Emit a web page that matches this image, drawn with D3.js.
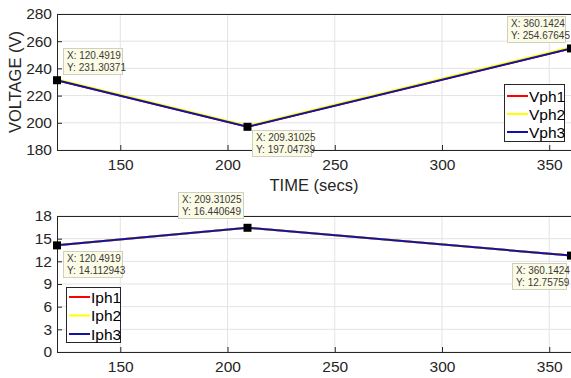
<!DOCTYPE html>
<html><head><meta charset="utf-8">
<script src="https://cdn.jsdelivr.net/npm/d3@7"></script>
<style>
body{margin:0;background:#fff;}
svg{display:block;font-family:"Liberation Sans",Arial,sans-serif;}
</style></head><body>
<svg id="c" width="571" height="378"></svg>
<script>
const timeSecs = [120.4919, 209.31025, 360.1424];
const vph1 = [231.30371, 197.04739, 254.67645];
const vph2 = [232.1, 197.8, 255.5];
const vph3 = [231.30371, 197.04739, 254.67645];
const iph1 = [14.112943, 16.440649, 12.75759];
const iph2 = [14.112943, 16.440649, 12.75759];
const iph3 = [14.112943, 16.440649, 12.75759];
const xTicks = [150, 200, 250, 300, 350];
const vTicks = [180, 200, 220, 240, 260, 280];
const iTicks = [0, 3, 6, 9, 12, 15, 18];
const vNames = ["Vph1", "Vph2", "Vph3"];
const iNames = ["Iph1", "Iph2", "Iph3"];
const colors = ["#ff0000", "#ffff00", "#1212a6"];
const vTips = [
  {i:0, x:"120.4919", y:"231.30371"},
  {i:1, x:"209.31025", y:"197.04739"},
  {i:2, x:"360.1424", y:"254.67645"}
];
const iTips = [
  {i:0, x:"120.4919", y:"14.112943"},
  {i:1, x:"209.31025", y:"16.440649"},
  {i:2, x:"360.1424", y:"12.75759"}
];

const svg = d3.select("#c");
const xs = d3.scaleLinear().domain([120.4919, 360.1424]).range([57, 571]);

function panel(yDomain, yRange, ticks, series, names, tips, tipPos, legendPos) {
  const ys = d3.scaleLinear().domain(yDomain).range(yRange);
  const g = svg.append("g");
  // grid
  g.selectAll(".gx").data(xTicks).join("line")
    .attr("x1", d=>xs(d)).attr("x2", d=>xs(d)).attr("y1", yRange[0]).attr("y2", yRange[1])
    .attr("stroke", "#e3e3e3").attr("stroke-width", 1);
  g.selectAll(".gy").data(ticks).join("line")
    .attr("x1", 57).attr("x2", 571).attr("y1", d=>ys(d)).attr("y2", d=>ys(d))
    .attr("stroke", "#e3e3e3").attr("stroke-width", 1);
  // axes
  const ax = g.append("g").attr("transform", `translate(0,${yRange[0]})`)
    .call(d3.axisBottom(xs).tickValues(xTicks).tickSize(-5).tickPadding(9).tickFormat(d3.format("d")));
  const ay = g.append("g").attr("transform", `translate(57,0)`)
    .call(d3.axisLeft(ys).tickValues(ticks).tickSize(-5).tickPadding(5).tickFormat(d3.format("d")));
  [ax, ay].forEach(a => {
    a.select(".domain").attr("stroke", "#262626").attr("stroke-width", 1);
    a.selectAll(".tick line").attr("stroke", "#262626");
    a.selectAll(".tick text").attr("fill", "#262626").attr("font-size", 15.5).attr("font-family", "Liberation Sans, Arial, sans-serif");
  });
  // top border
  g.append("line").attr("x1", 57).attr("x2", 571).attr("y1", yRange[1]+0.5).attr("y2", yRange[1]+0.5)
    .attr("stroke", "#262626");
  // lines
  const line = d3.line().x((d,i)=>xs(timeSecs[i])).y(d=>ys(d));
  series.forEach((s, k) => {
    g.append("path").attr("d", line(s)).attr("fill", "none")
      .attr("stroke", colors[k]).attr("stroke-width", 2);
  });
  // markers
  tips.forEach(t => {
    const px = xs(timeSecs[t.i]), py = ys(series[2][t.i]);
    g.append("rect").attr("x", px-4).attr("y", py-4).attr("width", 8).attr("height", 8).attr("fill", "#000");
  });
  // tips
  tips.forEach((t, k) => {
    const p = tipPos[k];
    g.append("rect").attr("x", p[0]+0.5).attr("y", p[1]+0.5).attr("width", p[2]).attr("height", 26)
      .attr("fill", "#fbfbe6").attr("stroke", "#d0d0c0");
    g.append("text").attr("x", p[0]+4).attr("y", p[1]+11).attr("font-size", 10).attr("fill", "#3a3a3a")
      .text("X: " + t.x);
    g.append("text").attr("x", p[0]+4).attr("y", p[1]+23).attr("font-size", 10).attr("fill", "#3a3a3a")
      .text("Y: " + t.y);
  });
  // legend
  const L = legendPos;
  g.append("rect").attr("x", L.x+0.5).attr("y", L.y+0.5).attr("width", L.w).attr("height", L.h)
    .attr("fill", "#fff").attr("stroke", "#262626");
  names.forEach((n, k) => {
    const yy = L.y + L.first + k*L.step;
    g.append("line").attr("x1", L.x+3).attr("x2", L.x+24).attr("y1", yy).attr("y2", yy)
      .attr("stroke", colors[k]).attr("stroke-width", 2);
    g.append("text").attr("x", L.x+25).attr("y", yy+5.5).attr("font-size", 15.5).attr("fill", "#000").text(n);
  });
  return ys;
}

panel([180, 280], [150, 14], vTicks, [vph1, vph2, vph3], vNames, vTips,
  [[63, 48, 59], [252, 130, 59], [507, 16, 58]],
  {x:504, y:84, w:60, h:57, first:12, step:18});

panel([0, 18], [352, 216], iTicks, [iph1, iph2, iph3], iNames, iTips,
  [[63, 251, 59], [178, 192, 65], [512, 263, 54]],
  {x:66, y:287, w:54, h:55, first:10, step:18.5});

svg.append("text").attr("x", 314).attr("y", 191).attr("text-anchor", "middle")
  .attr("font-size", 16.5).attr("fill", "#262626").text("TIME (secs)");
svg.append("text").attr("transform", "translate(21,82) rotate(-90)").attr("text-anchor", "middle")
  .attr("font-size", 16.5).attr("fill", "#262626").text("VOLTAGE (V)");
</script>
</body></html>
